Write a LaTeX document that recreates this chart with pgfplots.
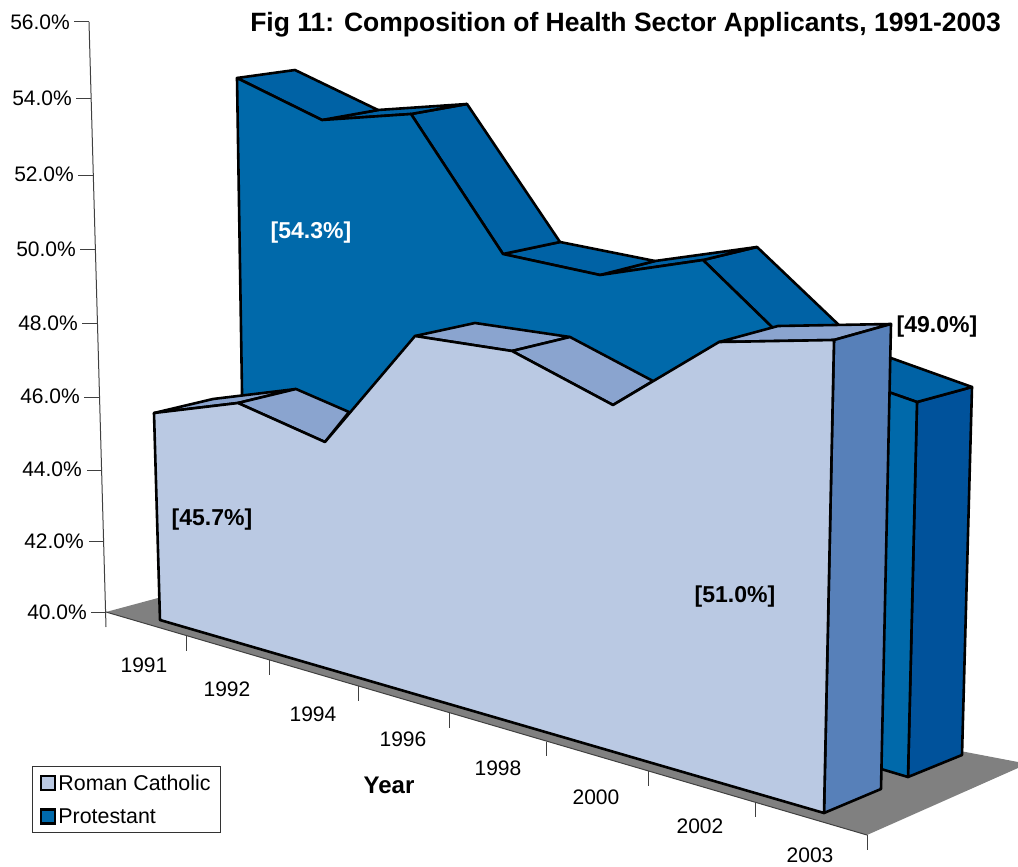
\documentclass[border=0pt]{standalone}
\usepackage{fontspec}
\setmainfont{Liberation Sans}
\usepackage{pgfplots}
\pgfplotsset{compat=1.18}

\definecolor{floorgray}{HTML}{808080}
\definecolor{rcfront}{HTML}{BAC9E3}
\definecolor{rctop}{HTML}{8AA4CF}
\definecolor{rcside}{HTML}{5780B9}
\definecolor{prfront}{HTML}{0069AA}
\definecolor{prtop}{HTML}{0062A5}
\definecolor{prside}{HTML}{00529B}

\tikzset{
  face/.style={draw=black, line width=2.6pt, line join=round},
  axln/.style={draw=black!75, line width=1pt},
  lab/.style={font=\fontsize{21}{25}\selectfont, inner sep=0pt},
  blab/.style={font=\fontsize{23}{27}\selectfont\bfseries, inner sep=0pt},
}

\begin{document}
\begin{tikzpicture}
\begin{axis}[
    scale only axis, width=1018pt, height=867pt,
    xmin=0, xmax=1018, ymin=0, ymax=867,
    y dir=reverse,
    axis lines=none,
    clip=false,
    every axis plot/.append style={forget plot},
    legend cell align=left,
    legend style={
      at={(axis cs:32,766)}, anchor=north west,
      draw=black!80, line width=1pt,
      font=\fontsize{21.4}{25}\selectfont,
      row sep=13pt, inner xsep=7.5pt, inner ysep=6pt,
      legend image code/.code={
        \draw[#1, line width=2.4pt] (0pt,-7pt) rectangle (14pt,7pt);
      },
    },
  ]
  % positions are read off the picture, in pixels
  % keeps the page at full size
  \addplot[draw=none] coordinates {(0,0) (1018,867)};

  % floor
  \addplot[fill=floorgray, draw=none] coordinates {(106,612) (867,835) (1018,768) (1018,762) (158,598)} --cycle;

  % value axis
  \addplot[axln] coordinates {(89,22) (106,627)};
  \addplot[axln] coordinates {(74,22) (89,22)};
  \addplot[axln] coordinates {(76,99) (91,99)};
  \addplot[axln] coordinates {(78,175) (93,175)};
  \addplot[axln] coordinates {(80,249) (95,249)};
  \addplot[axln] coordinates {(82,323) (97,323)};
  \addplot[axln] coordinates {(84,397) (99,397)};
  \addplot[axln] coordinates {(87,470) (101,470)};
  \addplot[axln] coordinates {(89,541) (104,541)};
  \addplot[axln] coordinates {(91,612) (106,612)};

  % year axis
  \addplot[axln] coordinates {(106,612) (867,835)};
  \addplot[axln] coordinates {(186,636) (186,651)};
  \addplot[axln] coordinates {(269,660) (269,675)};
  \addplot[axln] coordinates {(358,686) (358,701)};
  \addplot[axln] coordinates {(449.5,713) (449.5,728)};
  \addplot[axln] coordinates {(546,742) (546,756)};
  \addplot[axln] coordinates {(648,771) (648,786)};
  \addplot[axln] coordinates {(755,802) (755,817)};
  \addplot[axln] coordinates {(867,835) (867,850)};

  % Protestant, back wall
  \addplot[face, fill=prside] coordinates {(917,402) (972,387) (962,755) (908,777)} --cycle;
  \addplot[face, fill=prtop] coordinates {(811,365) (863,348) (972,387) (917,402)} --cycle;
  \addplot[face, fill=prtop] coordinates {(703,260) (757,247) (863,348) (811,365)} --cycle;
  \addplot[face, fill=prtop] coordinates {(600,275) (655,261) (757,247) (703,260)} --cycle;
  \addplot[face, fill=prtop] coordinates {(503,254) (560,242) (655,261) (600,275)} --cycle;
  \addplot[face, fill=prtop] coordinates {(411,114) (467,104) (560,242) (503,254)} --cycle;
  \addplot[face, fill=prtop] coordinates {(322,120) (378,110) (467,104) (411,114)} --cycle;
  \addplot[face, fill=prtop] coordinates {(237,78) (295,70) (378,110) (322,120)} --cycle;
  \addplot[face, fill=prfront] coordinates {(237,78) (322,120) (411,114) (503,254) (600,275) (703,260) (811,365) (917,402) (908,777) (245,580)} --cycle;

  % Roman Catholic, front wall
  \addplot[face, fill=rctop] coordinates {(154,413) (213,399) (296,389) (238,403)} --cycle;
  \addplot[face, fill=rctop] coordinates {(238,403) (296,389) (349,412) (325,442)} --cycle;
  \addplot[face, fill=rctop] coordinates {(415,336) (475,323) (570,337) (512,351)} --cycle;
  \addplot[face, fill=rctop] coordinates {(512,351) (570,337) (653,381) (613,405)} --cycle;
  \addplot[face, fill=rctop] coordinates {(719,342) (778,326) (891,324) (834,340)} --cycle;
  \addplot[face, fill=rcside] coordinates {(834,340) (891,324) (881,789) (824,813)} --cycle;
  \addplot[face, fill=rcfront] coordinates {(154,413) (238,403) (325,442) (415,336) (512,351) (613,405) (719,342) (834,340) (824,813) (160,620)} --cycle;

  % legend
  \addlegendimage{fill=rcfront, draw=black}
  \addlegendimage{fill=prfront, draw=black}
  \legend{Roman Catholic, Protestant}

  % title and axis labels
  \node[anchor=east, inner sep=0pt, font=\fontsize{26.5}{30}\selectfont\bfseries] at (axis cs:1001,25) {Fig 11: Composition of Health Sector Applicants, 1991-2003};
  \node[lab, anchor=east] at (axis cs:70,22) {56.0\%};
  \node[lab, anchor=east] at (axis cs:72,98) {54.0\%};
  \node[lab, anchor=east] at (axis cs:74,174) {52.0\%};
  \node[lab, anchor=east] at (axis cs:76,249) {50.0\%};
  \node[lab, anchor=east] at (axis cs:78,323) {48.0\%};
  \node[lab, anchor=east] at (axis cs:80,396) {46.0\%};
  \node[lab, anchor=east] at (axis cs:82,469) {44.0\%};
  \node[lab, anchor=east] at (axis cs:84,541) {42.0\%};
  \node[lab, anchor=east] at (axis cs:87,612) {40.0\%};

  \node[lab] at (axis cs:144,665) {1991};
  \node[lab] at (axis cs:227,689) {1992};
  \node[lab] at (axis cs:313,714) {1994};
  \node[lab] at (axis cs:403,739) {1996};
  \node[lab] at (axis cs:498,768) {1998};
  \node[lab] at (axis cs:596,797) {2000};
  \node[lab] at (axis cs:700,826) {2002};
  \node[lab] at (axis cs:810,855) {2003};
  \node[inner sep=0pt, font=\fontsize{24}{28}\selectfont\bfseries] at (axis cs:389,785) {Year};

  % value labels
  \node[blab, white] at (axis cs:311,233) {[54.3\%]};
  \node[blab] at (axis cs:212,520) {[45.7\%]};
  \node[blab] at (axis cs:735,597) {[51.0\%]};
  \node[blab] at (axis cs:937,327) {[49.0\%]};
\end{axis}
\end{tikzpicture}
\end{document}
